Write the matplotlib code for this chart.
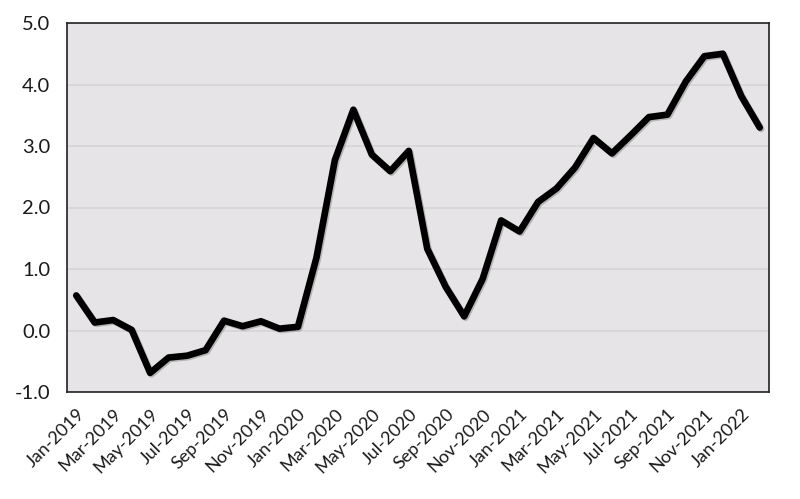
import matplotlib
matplotlib.use("Agg")
import matplotlib.pyplot as plt
import matplotlib.patheffects as pe

months = ["Jan", "Feb", "Mar", "Apr", "May", "Jun", "Jul", "Aug", "Sep", "Oct", "Nov", "Dec"]
categories = [f"{m}-{y}" for y in (2019, 2020, 2021) for m in months] + ["Jan-2022", "Feb-2022"]
values = [0.57, 0.13, 0.17, 0.01, -0.69, -0.44, -0.41, -0.32, 0.16, 0.07, 0.15, 0.03,
          0.06, 1.18, 2.77, 3.59, 2.86, 2.59, 2.92, 1.33, 0.71, 0.23, 0.84, 1.79,
          1.61, 2.09, 2.31, 2.65, 3.13, 2.88, 3.17, 3.47, 3.51, 4.05, 4.46, 4.50,
          3.81, 3.30]
yticks = [-1.0, 0.0, 1.0, 2.0, 3.0, 4.0, 5.0]

plt.rcParams['font.family'] = ['Lato', 'DejaVu Sans']

fig = plt.figure(figsize=(8, 4.99), dpi=100)
ax = fig.add_axes([67/800, 1 - 392/499, (769-67)/800, (392-23)/499])
ax.set_facecolor('#e6e4e6')

x = list(range(len(categories)))
ax.plot(x, values, color='black', lw=4.8, solid_joinstyle='round', solid_capstyle='round', zorder=3,
        path_effects=[pe.SimpleLineShadow(offset=(1, -1), shadow_color='#888888', alpha=0.5), pe.Normal()])

ax.set_xlim(-0.5, len(categories) - 0.5)
ax.set_ylim(-1.0, 5.0)
ax.set_yticks(yticks)
ax.set_yticklabels([f"{v:.1f}" for v in yticks], fontsize=14.5, color='#1a1a1a')
ax.yaxis.grid(True, color='#d6d4d6', lw=1.2)
ax.set_axisbelow(True)

ax.set_xticks(x[::2])
ax.set_xticklabels(categories[::2], rotation=45, ha='right', rotation_mode='anchor',
                   fontsize=13, color='#1a1a1a')
ax.tick_params(axis='both', length=0)
ax.tick_params(axis='y', pad=12)
ax.tick_params(axis='x', pad=10)

for s in ax.spines.values():
    s.set_color('#222222')
    s.set_linewidth(1.2)

fig.savefig('out.png', dpi=100)
